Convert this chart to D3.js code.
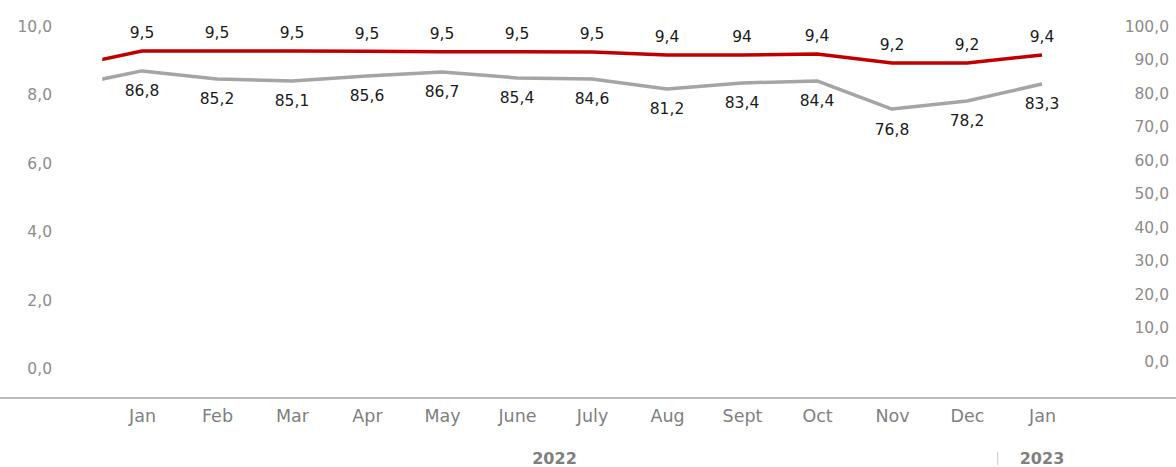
<!DOCTYPE html>
<html>
<head>
<meta charset="utf-8">
<script src="https://cdn.jsdelivr.net/npm/d3@7"></script>
<style>
  html, body { margin: 0; padding: 0; background: #fff; }
  svg { display: block; }
</style>
</head>
<body>
<svg id="chart" width="1176" height="467"></svg>
<script>
// ---- data ----
// index 0 = Dec 2021 (unlabelled, partly outside plot area), 1..13 = Jan 2022 .. Jan 2023
const monthLabels = ["Jan","Feb","Mar","Apr","May","June","July","Aug","Sept","Oct","Nov","Dec","Jan"];
const yearLabels = ["2022", "2023"];
const redValues = [8.80, 9.27, 9.27, 9.27, 9.26, 9.25, 9.25, 9.24, 9.15, 9.15, 9.18, 8.92, 8.92, 9.15];
// red data labels as printed on the chart
const redLabels = [null, "9,5","9,5","9,5","9,5","9,5","9,5","9,5","9,4","94","9,4","9,2","9,2","9,4"];
const greyValues = [82.0, 86.6, 84.2, 83.6, 85.1, 86.3, 84.5, 84.2, 81.2, 83.0, 83.6, 75.2, 77.6, 82.7];
const greyLabels = [null, "86,8","85,2","85,1","85,6","86,7","85,4","84,6","81,2","83,4","84,4","76,8","78,2","83,3"];
const leftTicks = [0, 2, 4, 6, 8, 10];
const rightTicks = [0, 10, 20, 30, 40, 50, 60, 70, 80, 90, 100];

// ---- chart ----
const W = 1176, H = 467;
const svg = d3.select("#chart");
const FONT = "'DejaVu Sans', Verdana, sans-serif";

const x = d3.scaleLinear().domain([0, 13]).range([67, 1042]);
const yL = d3.scaleLinear().domain([0, 10]).range([368, 26]);
const yR = d3.scaleLinear().domain([0, 100]).range([361, 26]);
const fmt = v => d3.format(".1f")(v).replace(".", ",");

// left axis
const gL = svg.append("g").attr("transform", "translate(52,0)")
  .call(d3.axisLeft(yL).tickValues(leftTicks).tickFormat(fmt).tickSize(0).tickPadding(0));
gL.select(".domain").remove();
gL.selectAll("text").attr("fill", "#8c8c8c").style("font-family", FONT).style("font-size", "15.5px").attr("dy", "0.35em");

// right axis (labels right-aligned near right edge)
const gR = svg.append("g").attr("transform", "translate(1169,0)")
  .call(d3.axisLeft(yR).tickValues(rightTicks).tickFormat(fmt).tickSize(0).tickPadding(0));
gR.select(".domain").remove();
gR.selectAll("text").attr("fill", "#8c8c8c").style("font-family", FONT).style("font-size", "15.5px").attr("dy", "0.35em");

// bottom axis line
svg.append("line").attr("x1", 0).attr("x2", W).attr("y1", 398).attr("y2", 398)
  .attr("stroke", "#a6a6a6").attr("stroke-width", 1.6);

// month labels via axis
const gX = svg.append("g").attr("transform", "translate(0,416)")
  .call(d3.axisBottom(x).tickValues(d3.range(1, 14)).tickFormat(i => monthLabels[i - 1]).tickSize(0).tickPadding(0));
gX.select(".domain").remove();
gX.selectAll("text").attr("fill", "#808080").style("font-family", FONT).style("font-size", "17.5px")
  .attr("y", 0).attr("dy", "0.35em");

// year labels
svg.append("text").attr("x", (x(1) + x(12)) / 2).attr("y", 458).attr("dy", "0.35em")
  .attr("text-anchor", "middle").attr("fill", "#7f7f7f").style("font-family", FONT)
  .style("font-size", "16px").style("font-weight", "bold").text(yearLabels[0]);
svg.append("text").attr("x", x(13)).attr("y", 458).attr("dy", "0.35em")
  .attr("text-anchor", "middle").attr("fill", "#7f7f7f").style("font-family", FONT)
  .style("font-size", "16px").style("font-weight", "bold").text(yearLabels[1]);
svg.append("line").attr("x1", x(12.41)).attr("x2", x(12.41)).attr("y1", 452).attr("y2", 465)
  .attr("stroke", "#c8c8c8").attr("stroke-width", 1);

// clip for plot area
svg.append("defs").append("clipPath").attr("id", "plot")
  .append("rect").attr("x", x(0.47)).attr("y", 0).attr("width", W).attr("height", 398);

const plot = svg.append("g").attr("clip-path", "url(#plot)");

const lineR = d3.line().x((d, i) => x(i)).y(d => yL(d));
const lineG = d3.line().x((d, i) => x(i)).y(d => yR(d));

plot.append("path").datum(greyValues).attr("d", lineG)
  .attr("fill", "none").attr("stroke", "#a5a5a5").attr("stroke-width", 3.5).attr("stroke-linejoin", "round");
plot.append("path").datum(redValues).attr("d", lineR)
  .attr("fill", "none").attr("stroke", "#c00000").attr("stroke-width", 3.5).attr("stroke-linejoin", "round");

// data labels
svg.append("g").selectAll("text").data(redLabels.map((t, i) => ({t, i})).filter(d => d.t))
  .join("text")
  .attr("x", d => x(d.i)).attr("y", d => yL(redValues[d.i]) - 18).attr("dy", "0.35em")
  .attr("text-anchor", "middle").attr("fill", "#1a1a1a")
  .style("font-family", FONT).style("font-size", "15.5px").text(d => d.t);

svg.append("g").selectAll("text").data(greyLabels.map((t, i) => ({t, i})).filter(d => d.t))
  .join("text")
  .attr("x", d => x(d.i)).attr("y", d => yR(greyValues[d.i]) + 20).attr("dy", "0.35em")
  .attr("text-anchor", "middle").attr("fill", "#1a1a1a")
  .style("font-family", FONT).style("font-size", "15.5px").text(d => d.t);
</script>
</body>
</html>
